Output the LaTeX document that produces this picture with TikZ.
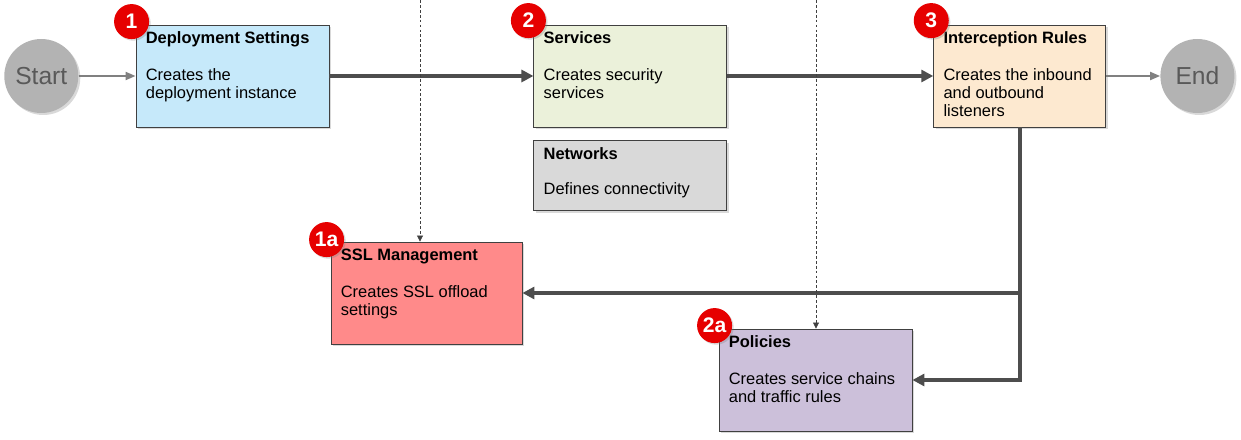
\documentclass[tikz,border=0pt]{standalone}
\usepackage{fontspec}
\setmainfont{Liberation Sans}
\usetikzlibrary{positioning,arrows.meta,shadows}

\definecolor{deployblue}{HTML}{C6E9FA}
\definecolor{servgreen}{HTML}{EBF1DA}
\definecolor{rulepeach}{HTML}{FDE9D0}
\definecolor{netgray}{HTML}{D9D9D9}
\definecolor{sslred}{HTML}{FF8A8A}
\definecolor{polviolet}{HTML}{CCC0DA}
\definecolor{boxline}{HTML}{404040}
\definecolor{circgray}{HTML}{B3B3B3}
\definecolor{circtext}{HTML}{595959}
\definecolor{badgered}{HTML}{E60000}
\definecolor{arrdark}{HTML}{4D4D4D}
\definecolor{arrlight}{HTML}{808080}

\begin{document}
\begin{tikzpicture}[
  node distance=1cm,
  box/.style={rectangle, draw=boxline, line width=0.6pt, minimum width=4.825cm, minimum height=2.55cm,
              inner sep=0pt, drop shadow={opacity=0.3, shadow xshift=0.06cm, shadow yshift=-0.06cm}},
  boxtext/.style={anchor=north west, inner sep=0pt, align=left, font=\fontsize{11.7}{12.8}\selectfont},
  circ/.style={circle, fill=circgray, minimum size=1.85cm, inner sep=0pt, text=circtext,
               font=\fontsize{17.5}{20}\selectfont, drop shadow={opacity=0.3, shadow xshift=0.05cm, shadow yshift=-0.05cm}},
  badge/.style={circle, fill=badgered, minimum size=0.875cm, inner sep=0pt, text=white,
                font=\bfseries\fontsize{15}{16}\selectfont, drop shadow={opacity=0.3, shadow xshift=0.04cm, shadow yshift=-0.04cm}},
  arr/.style={-{Triangle[length=0.3cm, width=0.3cm]}, line width=0.1cm, draw=arrdark},
  thinarr/.style={-{Triangle[length=0.25cm, width=0.2cm]}, line width=1.4pt, draw=arrlight},
  dasharr/.style={-{Triangle[length=0.15cm, width=0.15cm]}, line width=0.5pt, draw=boxline, dash pattern=on 2pt off 1.5pt},
]
  \useasboundingbox (0,0) rectangle (31.025,-11);

  % Top row
  \node[box, fill=deployblue] (deploy) at (5.8125,-1.9) {};
  \node[box, fill=servgreen, right=5.1cm of deploy] (services) {};
  \node[box, fill=rulepeach, minimum width=4.3cm, right=5.15cm of services] (rules) {};
  \node[box, fill=netgray, minimum height=1.75cm, below=0.325cm of services] (networks) {};

  % Start and end
  \node[circ, left=1.425cm of deploy] (start) {Start};
  \node[circ, right=1.35cm of rules] (end) {End};

  % Lower row
  \node[box, fill=sslred, minimum width=4.775cm] (ssl) at (10.6625,-7.325) {};
  \node[box, fill=polviolet] (policies) at (20.3875,-9.5) {};

  % Box texts
  \node[boxtext] (deploytxt) at ([xshift=0.25cm, yshift=-0.175cm]deploy.north west)
    {\textbf{Deployment Settings}\\[13.5pt]Creates the\\deployment instance};
  \node[boxtext] (servicestxt) at ([xshift=0.25cm, yshift=-0.175cm]services.north west)
    {\textbf{Services}\\[13.5pt]Creates security\\services};
  \node[boxtext] (rulestxt) at ([xshift=0.25cm, yshift=-0.175cm]rules.north west)
    {\textbf{Interception Rules}\\[13.5pt]Creates the inbound\\and outbound\\listeners};
  \node[boxtext] (networkstxt) at ([xshift=0.25cm, yshift=-0.175cm]networks.north west)
    {\textbf{Networks}\\[12pt]Defines connectivity};
  \node[boxtext] (ssltxt) at ([xshift=0.25cm, yshift=-0.175cm]ssl.north west)
    {\textbf{SSL Management}\\[13.5pt]Creates SSL offload\\settings};
  \node[boxtext] (policiestxt) at ([xshift=0.25cm, yshift=-0.175cm]policies.north west)
    {\textbf{Policies}\\[13.5pt]Creates service chains\\and traffic rules};

  % Step badges
  \node[badge] (b1) at ([xshift=-0.1cm, yshift=0.075cm]deploy.north west) {1};
  \node[badge] (b2) at ([xshift=-0.125cm, yshift=0.1cm]services.north west) {2};
  \node[badge] (b3) at ([xshift=-0.05cm, yshift=0.1cm]rules.north west) {3};
  \node[badge] (b1a) at ([xshift=-0.1cm, yshift=0.05cm]ssl.north west) {1a};
  \node[badge] (b2a) at ([xshift=-0.1cm, yshift=0.075cm]policies.north west) {2a};

  % Dashed drops from the top edge
  \coordinate (ssltop) at (10.5,0);
  \coordinate (poltop) at (20.4,0);

  % Arrows
  \draw[thinarr] (start) -- (deploy);
  \draw[arr] (deploy) -- (services);
  \draw[arr] (services) -- (rules);
  \draw[thinarr] (rules) -- (end);
  \draw[arr] (rules.south) |- (ssl.east);
  \draw[arr] (rules.south) |- (policies.east);
  \draw[dasharr] (ssltop) -- (ssltop |- ssl.north);
  \draw[dasharr] (poltop) -- (poltop |- policies.north);
\end{tikzpicture}
\end{document}
